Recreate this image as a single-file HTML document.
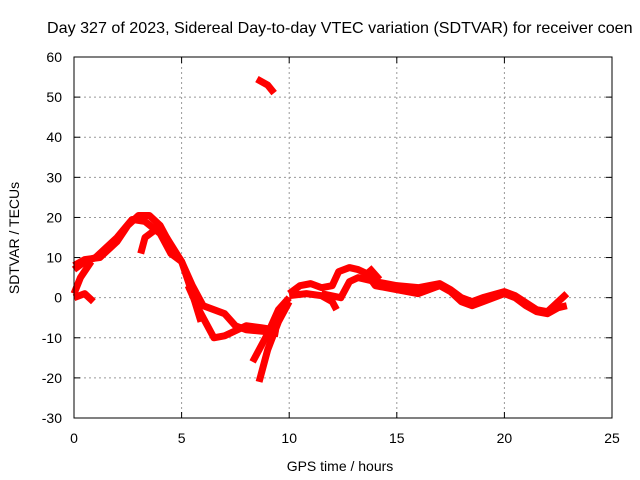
<!DOCTYPE html>
<html><head><meta charset="utf-8"><style>
body{margin:0;background:#fff}
svg{display:block;font-family:"Liberation Sans",sans-serif}
</style></head><body>
<svg id="c" width="640" height="480">
<text x="47" y="33" font-size="16.1" fill="#000">Day 327 of 2023, Sidereal Day-to-day VTEC variation (SDTVAR) for receiver coen</text>
<text x="340" y="471" font-size="14" text-anchor="middle">GPS time / hours</text>
<text transform="translate(19,238) rotate(-90)" font-size="14" text-anchor="middle">SDTVAR / TECUs</text>
<g id="grid"></g><g id="ticks"></g><g id="series"></g>
<rect x="74" y="57" width="538" height="361" fill="none" stroke="#000" stroke-width="1"/>
</svg>
<script>
const xTicks=[0,5,10,15,20,25];
const yTicks=[-30,-20,-10,0,10,20,30,40,50,60];
const s1=[[0,8],[0.5,9.5],[1.2,10],[2,14],[2.5,18],[3,20.5],[3.5,20.5],[4,18],[4.5,13],[5,9],[5.5,3],[6,-2],[6.5,-3],[7,-4],[7.5,-7],[8,-8],[9,-8.5],[9.5,-9]];
const s2=[[0,7],[0.5,9],[1,10],[2,15],[2.7,19.5],[3.3,19],[4,16],[4.5,11],[5,9],[5.5,1],[5.9,-6]];
const s2b=[[5.3,3],[5.8,-3],[6.5,-10],[7,-9.5],[8,-7],[8.7,-7.5],[9.3,-8]];
const s3=[[0,0],[0.5,1],[0.9,-1]];
const s4=[[0,1],[0.3,5],[0.8,9]];
const s5=[[3.1,11],[3.3,15],[3.8,17],[4.3,15],[5,9]];
const s6=[[8.3,-16],[9,-9],[9.5,-3],[10,0]];
const s7=[[8.6,-21],[9,-13],[9.5,-6],[10,-1]];
const s8=[[8.5,54.5],[9,53],[9.3,51]];
const s9=[[10,1],[10.5,3],[11,3.5],[11.5,2.5],[12,3],[12.3,6.5],[12.8,7.5],[13.2,7],[13.6,6],[14,3],[15,2],[16,1],[16.5,2],[17,3],[17.5,1.5],[18,-1],[18.5,-2],[19,-1],[20,1],[20.5,0],[21,-2],[21.5,-3.5],[22,-4],[22.5,-2.5],[22.9,-2]];
const s10=[[10,0.5],[10.8,1],[11.5,0.5],[12,-1],[12.2,-3]];
const s11=[[11.5,1],[12.4,0],[12.8,4],[13.2,5],[14,4],[15,3],[16,2.5],[17,3.5],[17.5,2],[18,0],[18.5,-1],[19,0],[20,1.5],[20.5,0.5],[21.5,-3],[22,-3.5],[22.5,-1],[22.9,1]];
const s12=[[13.7,7.5],[14.2,4.5]];
const allSeries=[s1,s2,s2b,s3,s4,s5,s6,s7,s8,s9,s10,s11,s12];
const NS="http://www.w3.org/2000/svg";
const X=h=>74+h*538/25, Y=v=>57+(60-v)*361/90;
const grid=document.getElementById('grid'),ticks=document.getElementById('ticks'),ser=document.getElementById('series');
function mk(tag,attrs,parent){const e=document.createElementNS(NS,tag);for(const k in attrs)e.setAttribute(k,attrs[k]);parent.appendChild(e);return e;}
xTicks.forEach(t=>{
 if(t>0&&t<25){const g=mk('line',{x1:X(t),x2:X(t),y1:57,y2:418,stroke:'#999','stroke-dasharray':'2,3'},grid);
 
 }
 const l=mk('text',{x:X(t),y:443,'font-size':14,'text-anchor':'middle'},ticks);l.textContent=t;
 
 
 mk('line',{x1:X(t),x2:X(t),y1:418,y2:412,stroke:'#000'},ticks);mk('line',{x1:X(t),x2:X(t),y1:57,y2:63,stroke:'#000'},ticks);
});
yTicks.forEach(t=>{
 if(t>-30&&t<60){const g=mk('line',{x1:74,x2:612,y1:Y(t),y2:Y(t),stroke:'#999','stroke-dasharray':'2,3'},grid);
 
 }
 const l=mk('text',{x:62,y:Y(t)+5,'font-size':14,'text-anchor':'end'},ticks);l.textContent=t;
 
 
 mk('line',{x1:74,x2:80,y1:Y(t),y2:Y(t),stroke:'#000'},ticks);mk('line',{x1:606,x2:612,y1:Y(t),y2:Y(t),stroke:'#000'},ticks);
});
allSeries.forEach(s=>{
 const p=mk('polyline',{points:s.map(d=>X(d[0])+','+Y(d[1])).join(' '),fill:'none',stroke:'#f00','stroke-width':7,'stroke-linejoin':'round','stroke-linecap':'butt'},ser);
 
 
});
</script>
</body></html>
